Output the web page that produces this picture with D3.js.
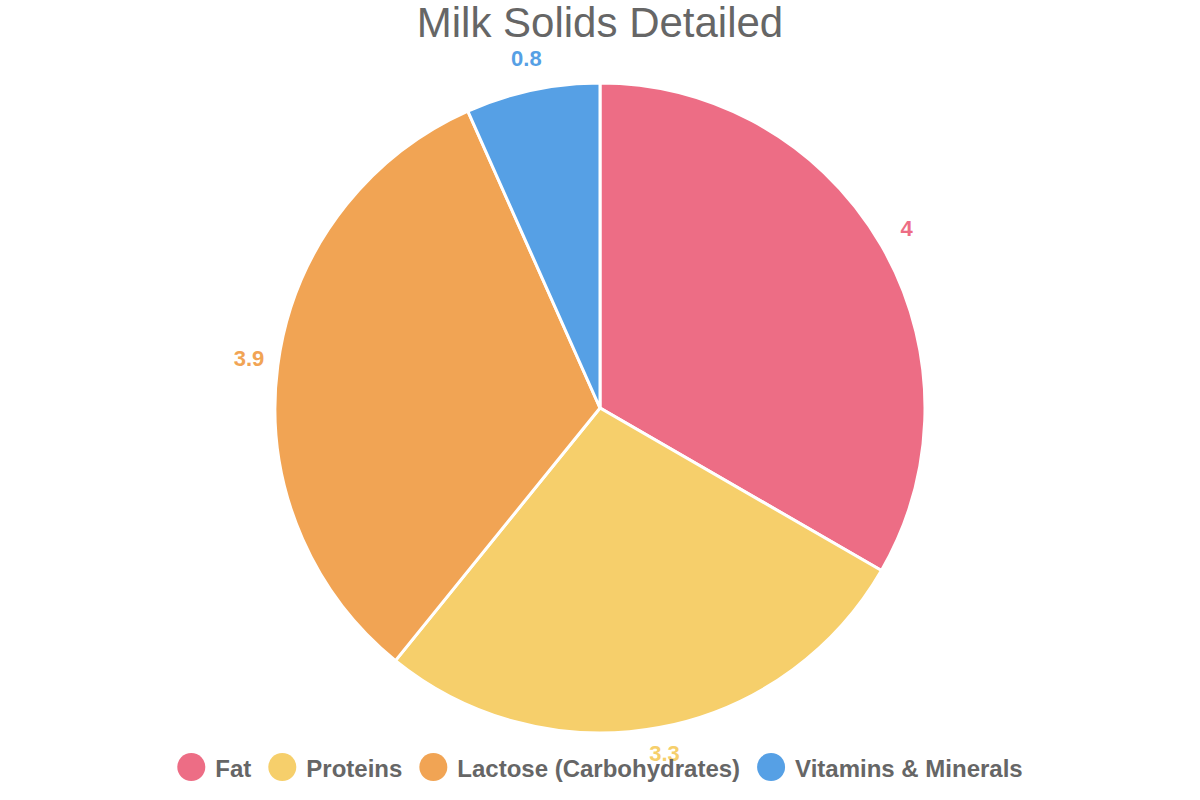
<!DOCTYPE html>
<html><head><meta charset="utf-8">
<script src="https://cdn.jsdelivr.net/npm/d3@7"></script>
<style>body{margin:0;background:#fff}svg{display:block}</style>
</head><body>
<svg id="c" width="1200" height="800"></svg>
<script>
const categories = ["Fat", "Proteins", "Lactose (Carbohydrates)", "Vitamins & Minerals"];
const values = [4, 3.3, 3.9, 0.8];
const colors = ["#ED6D85", "#F6CF6B", "#F1A454", "#56A0E5"];
const title = "Milk Solids Detailed";

const svg = d3.select("#c");
const W = 1200, cx = 600, cy = 408, R = 325, labelR = 354;
const font = "Liberation Sans, Arial, Helvetica, sans-serif";

svg.append("text").attr("x", W/2).attr("y", 37).attr("text-anchor","middle")
  .attr("font-family", font).attr("font-size", 42).attr("fill", "#666").text(title);

const data = categories.map((c,i)=>({c, v:values[i], col:colors[i]}));
const pie = d3.pie().value(d=>d.v).sort(null);
const arcs = pie(data);
const arc = d3.arc().innerRadius(0).outerRadius(R);
const g = svg.append("g").attr("transform", `translate(${cx},${cy})`);
g.selectAll("path").data(arcs).join("path").attr("d", arc)
  .attr("fill", d=>d.data.col).attr("stroke", "#fff").attr("stroke-width", 3);

const lab = d3.arc().innerRadius(labelR).outerRadius(labelR);
g.selectAll("text.v").data(arcs).join("text").attr("class","v")
  .attr("transform", d=>{ const [x,y] = lab.centroid(d); return `translate(${x},${y-3})`; })
  .attr("text-anchor","middle").attr("dominant-baseline","central")
  .attr("font-family", font).attr("font-weight","bold").attr("font-size", 22)
  .attr("fill", d=>d.data.col).text(d=>d.data.v);

// legend
const lg = svg.append("g");
const items = lg.selectAll("g").data(data).join("g");
items.append("circle").attr("r", 14).attr("cy", 0).attr("fill", d=>d.col);
items.append("text").attr("x", 24).attr("dominant-baseline","central").attr("y", 1)
  .attr("font-family", font).attr("font-weight","bold").attr("font-size", 24)
  .attr("fill","#666").text(d=>d.c);
const gap = 17;
const widths = items.nodes().map(n=>n.getBBox().width);
const total = d3.sum(widths) + gap*(widths.length-1);
let sx = W/2 - total/2 + 14;
items.attr("transform", (d,i)=>{ const t = `translate(${sx},767)`; sx += widths[i] + gap; return t; });
</script>
</body></html>
